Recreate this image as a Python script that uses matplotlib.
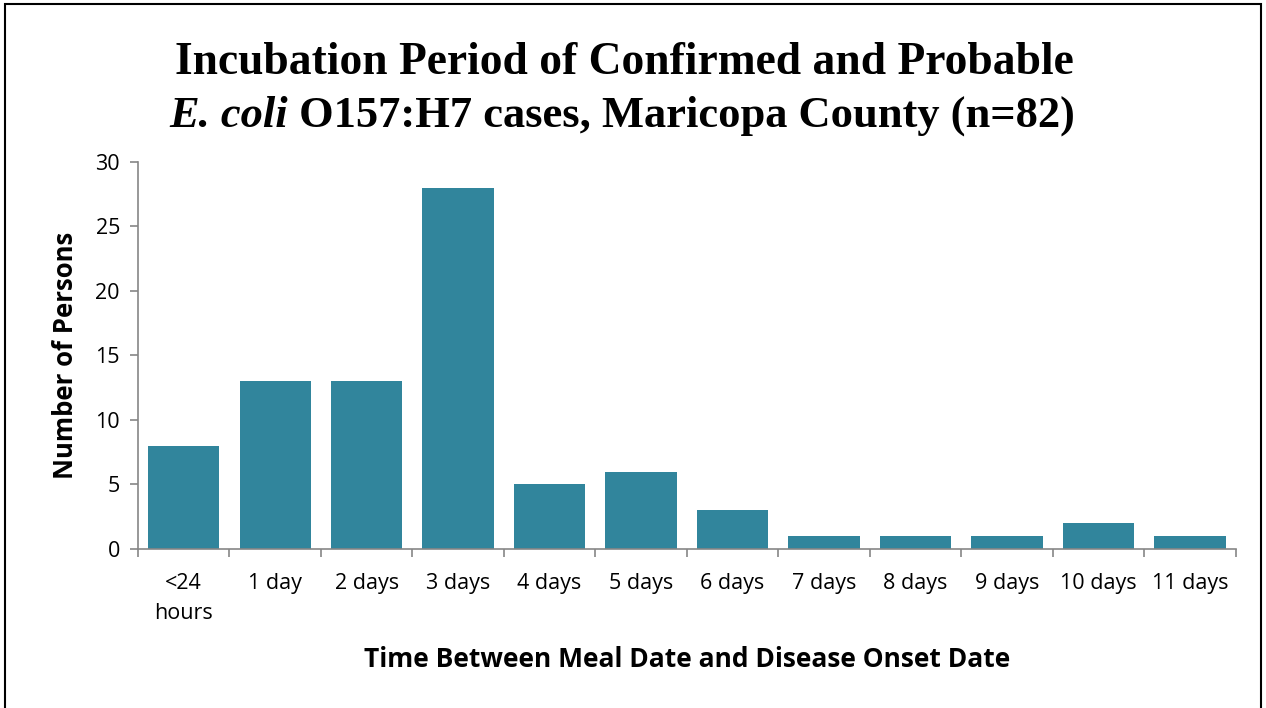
import matplotlib.pyplot as plt
from matplotlib.patches import Rectangle

# data
categories = ['<24\nhours', '1 day', '2 days', '3 days', '4 days', '5 days',
              '6 days', '7 days', '8 days', '9 days', '10 days', '11 days']
persons = [8, 13, 13, 28, 5, 6, 3, 1, 1, 1, 2, 1]
y_ticks = [0, 5, 10, 15, 20, 25, 30]

bar_color = '#31859C'
spine_color = '#868686'
sans = 'Open Sans'

fig = plt.figure(figsize=(12.66, 7.08), dpi=100)
ax = fig.add_axes([0.109, 0.2246, 0.867, 0.5466])

x = list(range(len(categories)))
ax.bar(x, persons, width=0.78, color=bar_color)
ax.set_xlim(-0.5, len(categories) - 0.5)
ax.set_ylim(0, 30)
ax.set_yticks(y_ticks)
ax.set_xticks(x)
ax.set_xticklabels(categories, fontsize=15.5, family=sans, linespacing=1.6)
ax.set_xticks([i - 0.5 for i in range(len(categories) + 1)], minor=True)
ax.tick_params(axis='x', which='major', length=0, pad=17)
ax.tick_params(axis='x', which='minor', length=6, color=spine_color, width=1.2)
ax.tick_params(axis='y', length=6, color=spine_color, width=1.2, labelsize=15.5, pad=7)
for lbl in ax.get_yticklabels():
    lbl.set_family(sans)

for s in ['top', 'right']:
    ax.spines[s].set_visible(False)
for s in ['left', 'bottom']:
    ax.spines[s].set_color(spine_color)
    ax.spines[s].set_linewidth(1.2)

ax.set_ylabel('Number of Persons', fontsize=18.5, fontweight='bold', family=sans, labelpad=12)
ax.set_xlabel('Time Between Meal Date and Disease Onset Date', fontsize=19,
              fontweight='bold', family=sans, labelpad=16)

# title, two lines, second line with italic part
serif = 'Liberation Serif'
fig.text(0.493, 1 - 63 / 708, 'Incubation Period of Confirmed and Probable',
         ha='center', va='center', fontsize=32.8, fontweight='bold', family=serif)

fig.canvas.draw()
renderer = fig.canvas.get_renderer()
t1 = fig.text(0, 1 - 116 / 708, 'E. coli', ha='left', va='center', fontsize=32,
              fontweight='bold', style='italic', family=serif)
t2 = fig.text(0, 1 - 116 / 708, ' O157:H7 cases, Maricopa County (n=82)', ha='left',
              va='center', fontsize=32, fontweight='bold', family=serif)
w1 = t1.get_window_extent(renderer).width / fig.bbox.width
w2 = t2.get_window_extent(renderer).width / fig.bbox.width
x0 = 0.4915 - (w1 + w2) / 2
t1.set_x(x0)
t2.set_x(x0 + w1)

# outer border
fig.patches.append(Rectangle((0.004, -0.01), 0.992, 1.004, transform=fig.transFigure,
                             fill=False, edgecolor='black', linewidth=1.5))

fig.savefig('out.png', dpi=100)
